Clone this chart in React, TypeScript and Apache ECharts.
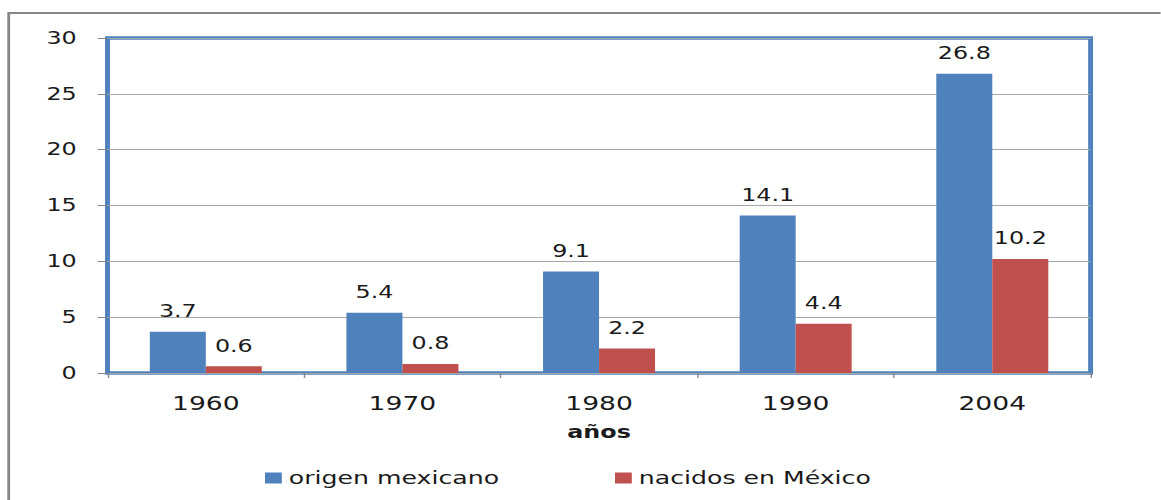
import React, { useEffect, useRef } from "react";
import * as echarts from "echarts";

const categories = ["1960", "1970", "1980", "1990", "2004"];
const origenMexicano = [3.7, 5.4, 9.1, 14.1, 26.8];
const nacidosEnMexico = [0.6, 0.8, 2.2, 4.4, 10.2];
const seriesNames = ["origen mexicano", "nacidos en México"];
const xAxisTitle = "años";

const S = 1.4; // horizontal stretch of the reference picture
const PAGE_W = 1161;
const PAGE_H = 500;
const CW = PAGE_W / S;
const FONT = "'DejaVu Sans', sans-serif";

export default function App() {
  const ref = useRef<HTMLDivElement>(null);
  useEffect(() => {
    if (!ref.current) return;
    const chart = echarts.init(ref.current, undefined, { renderer: "svg" });
    const labelStyle = {
      show: true,
      position: "top" as const,
      distance: 12,
      fontFamily: FONT,
      fontSize: 17,
      color: "#1a1a1a",
    };
    chart.setOption({
      animation: false,
      backgroundColor: "#ffffff",
      textStyle: { fontFamily: FONT },
      graphic: [
        {
          type: "rect",
          shape: { x: 8.7 / S, y: 13, width: CW + 40, height: PAGE_H + 40 },
          style: { fill: "none", stroke: "#888888", lineWidth: 2 },
          silent: true,
          z: -10,
        },
      ],
      grid: {
        left: 107.5 / S,
        right: CW - 1091 / S,
        top: 38,
        height: 335,
        show: true,
        borderColor: "#4f81bd",
        borderWidth: 3.5,
        backgroundColor: "transparent",
      },
      legend: [
        {
          data: [seriesNames[0]],
          left: 258 / S,
          top: 464,
          itemWidth: 12,
          itemHeight: 11,
          itemGap: 5,
          icon: "rect",
          textStyle: { fontFamily: FONT, fontSize: 18, color: "#1a1a1a" },
        },
        {
          data: [seriesNames[1]],
          left: 608 / S,
          top: 464,
          itemWidth: 12,
          itemHeight: 11,
          itemGap: 5,
          icon: "rect",
          textStyle: { fontFamily: FONT, fontSize: 18, color: "#1a1a1a" },
        },
      ],
      xAxis: {
        type: "category",
        data: categories,
        name: xAxisTitle,
        nameLocation: "middle",
        nameGap: 51,
        nameTextStyle: {
          fontFamily: FONT,
          fontSize: 17,
          fontWeight: "bold",
          color: "#1a1a1a",
        },
        axisLine: { show: false },
        axisTick: {
          show: true,
          length: 5,
          lineStyle: { color: "#888888", width: 1 },
        },
        axisLabel: {
          margin: 21,
          fontFamily: FONT,
          fontSize: 19,
          color: "#1a1a1a",
        },
      },
      yAxis: {
        type: "value",
        min: 0,
        max: 30,
        interval: 5,
        axisLine: { show: false },
        axisTick: {
          show: true,
          length: 7,
          lineStyle: { color: "#888888", width: 1 },
        },
        splitLine: { lineStyle: { color: "#a6a6a6", width: 1 } },
        axisLabel: {
          margin: 22,
          fontFamily: FONT,
          fontSize: 17,
          color: "#1a1a1a",
        },
      },
      series: [
        {
          name: seriesNames[0],
          type: "bar",
          data: origenMexicano,
          barWidth: 40,
          barGap: "0%",
          itemStyle: { color: "#4f81bd" },
          label: labelStyle,
        },
        {
          name: seriesNames[1],
          type: "bar",
          data: nacidosEnMexico,
          barWidth: 40,
          barGap: "0%",
          itemStyle: { color: "#c0504d" },
          label: labelStyle,
        },
      ],
    });
    return () => chart.dispose();
  }, []);

  return (
    <div
      style={{
        position: "fixed",
        left: 0,
        top: 0,
        width: PAGE_W,
        height: PAGE_H,
        overflow: "hidden",
        background: "#ffffff",
      }}
    >
      <div
        style={{
          width: CW,
          height: PAGE_H,
          transform: `scaleX(${S})`,
          transformOrigin: "0 0",
        }}
      >
        <div ref={ref} style={{ width: CW, height: PAGE_H }} />
      </div>
    </div>
  );
}
